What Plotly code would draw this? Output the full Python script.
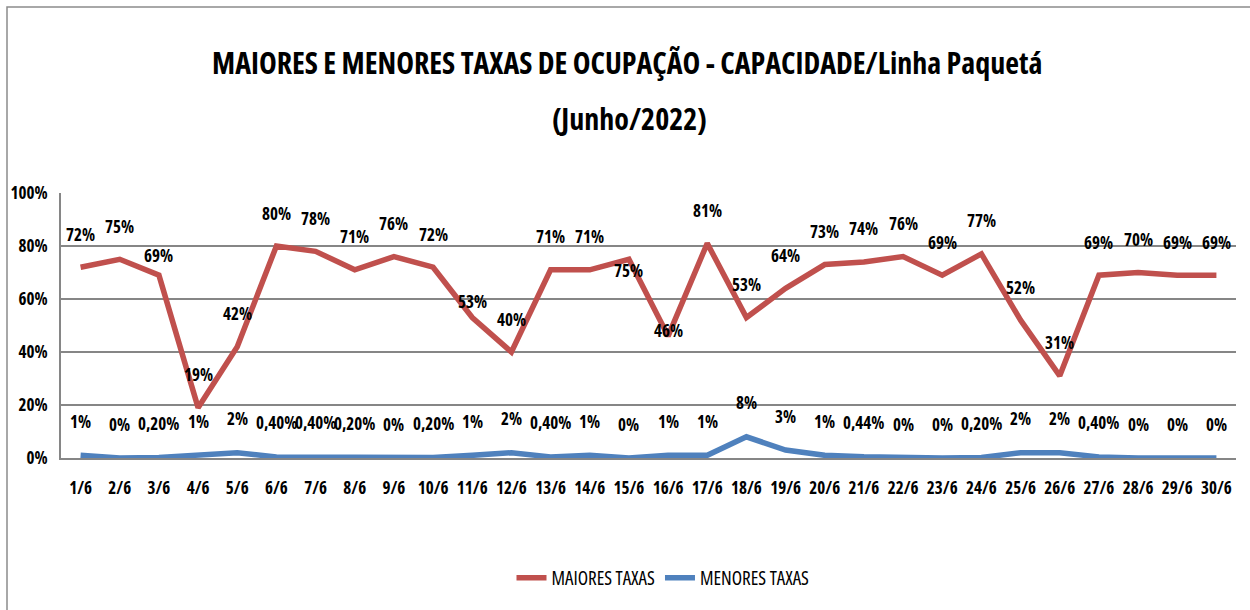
import plotly.graph_objects as go

days = [f"{d}/6" for d in range(1, 31)]
maiores = [72, 75, 69, 19, 42, 80, 78, 71, 76, 72, 53, 40, 71, 71, 75, 46, 81, 53, 64, 73,
           74, 76, 69, 77, 52, 31, 69, 70, 69, 69]
menores = [1, 0, 0.2, 1, 2, 0.4, 0.4, 0.2, 0, 0.2, 1, 2, 0.4, 1, 0, 1, 1, 8, 3, 1,
           0.44, 0, 0, 0.2, 2, 2, 0.4, 0, 0, 0]
y_ticks = [0, 20, 40, 60, 80, 100]

RED = "#C0504D"
BLUE = "#4F81BD"
FONT = "Open Sans, DejaVu Sans Condensed, sans-serif"

# plot area in figure pixels
L, R, T, B = 61, 1236, 193, 458
H = B - T
W = R - L


def py(p):
    """figure pixel row -> paper y"""
    return (B - p) / H


def px(p):
    """figure pixel column -> paper x"""
    return (p - L) / W


def c(s):
    return f"<span style='font-stretch:condensed'>{s}</span>"


def fmt(v):
    if float(v).is_integer():
        return f"{int(v)}%"
    return f"{v:.2f}".replace(".", ",") + "%"


def f(size, bold=True):
    d = dict(family=FONT, size=size, color="black")
    if bold:
        d["weight"] = "bold"
    return d


fig = go.Figure()
fig.add_trace(go.Scatter(x=days, y=maiores, mode="lines", name=c("MAIORES TAXAS"),
                         line=dict(color=RED, width=5.5)))
fig.add_trace(go.Scatter(x=days, y=menores, mode="lines", name=c("MENORES TAXAS"),
                         line=dict(color=BLUE, width=5.5)))

red_shift = {2: 20, 10: 16, 14: -11, 15: 6}
annotations = []
for i, (d, v) in enumerate(zip(days, maiores)):
    annotations.append(dict(x=d, y=v, text=c(fmt(v)), showarrow=False, xref="x", yref="y",
                            yshift=red_shift.get(i, 33), yanchor="middle", font=f(17)))
for i, (d, v) in enumerate(zip(days, menores)):
    annotations.append(dict(x=d, y=v, text=c(fmt(v)), showarrow=False, xref="x", yref="y",
                            yshift=34, yanchor="middle", font=f(17)))

annotations.append(dict(text=c("MAIORES E MENORES TAXAS DE OCUPAÇÃO - CAPACIDADE/Linha Paquetá"),
                        x=px(627), y=py(62), xref="paper", yref="paper", showarrow=False,
                        xanchor="center", yanchor="middle", font=f(30)))
annotations.append(dict(text=c("(Junho/2022)"), x=px(629), y=py(118), xref="paper", yref="paper",
                        showarrow=False, xanchor="center", yanchor="middle", font=f(30)))

fig.update_layout(
    width=1250, height=610,
    margin=dict(l=L, r=1250 - R, t=T, b=610 - B, autoexpand=False),
    paper_bgcolor="white", plot_bgcolor="white",
    showlegend=True,
    legend=dict(orientation="h", x=px(663), xanchor="center", y=py(578), yanchor="middle",
                font=f(19, bold=False), itemwidth=30),
    annotations=annotations,
    shapes=[dict(type="rect", xref="paper", yref="paper",
                 x0=px(7), x1=1.2, y0=-1, y1=py(7),
                 line=dict(color="#8c8c8c", width=1.5), layer="below")],
    xaxis=dict(range=[-0.5, 29.5], showgrid=False, showline=True, linecolor="#868686", linewidth=2,
               ticks="", tickangle=0, tickfont=f(17), automargin=False, fixedrange=True,
               tickvals=days, ticktext=[c(d) for d in days], ticklabelstandoff=14),
    yaxis=dict(range=[0, 100], tickvals=y_ticks, ticktext=[c(f"{t}%") for t in y_ticks],
               showgrid=True, gridcolor="#868686", gridwidth=2, zeroline=False,
               showline=True, linecolor="#868686", linewidth=2, ticks="",
               tickfont=f(17), automargin=False, fixedrange=True, ticklabelstandoff=8),
)

fig.write_html("out.html", config={"displayModeBar": False},
               post_script="document.body.style.margin='0';")
